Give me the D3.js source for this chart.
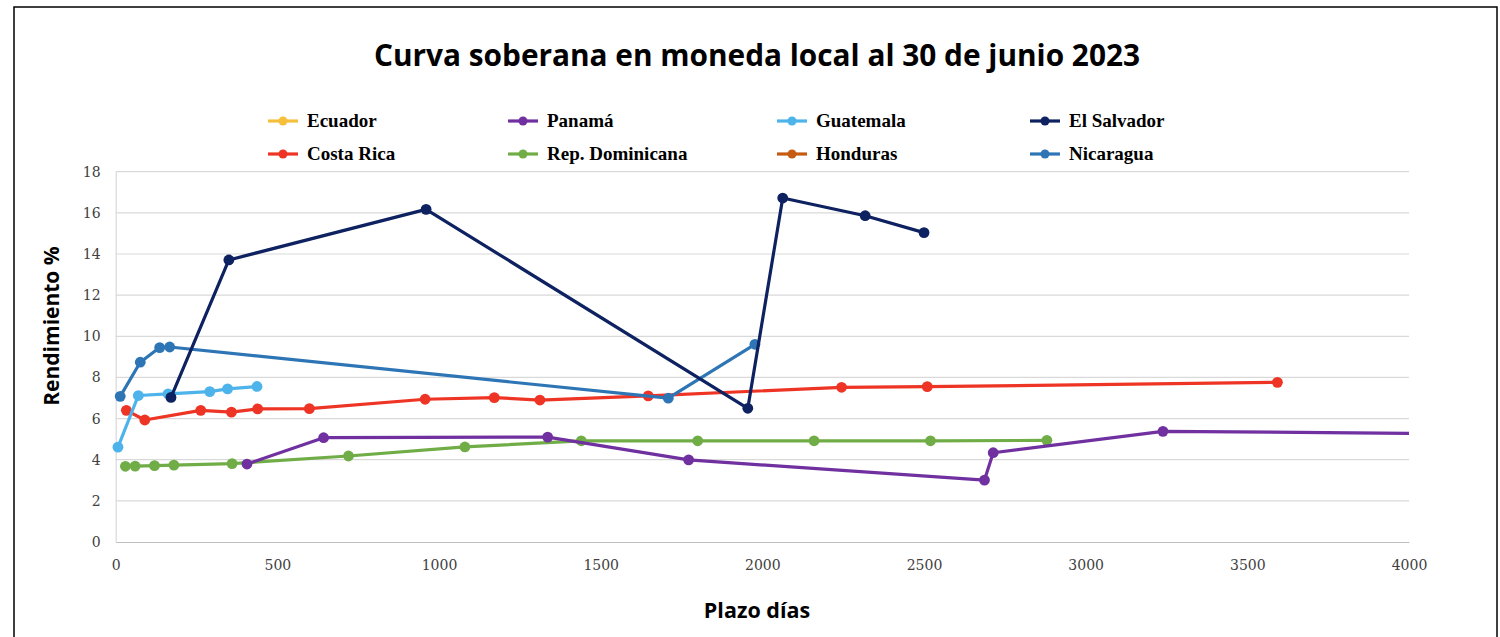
<!DOCTYPE html>
<html><head><meta charset="utf-8">
<script src="https://cdn.jsdelivr.net/npm/d3@7"></script>
<style>body{margin:0;background:#fff}</style>
</head><body>
<svg id="c" width="1500" height="637"></svg>
<script>
// ---- data ----
const xTicks = [0,500,1000,1500,2000,2500,3000,3500,4000];
const yTicks = [0,2,4,6,8,10,12,14,16,18];
const seriesNames = ["Ecuador","Panamá","Guatemala","El Salvador","Costa Rica","Rep. Dominicana","Honduras","Nicaragua"];
const seriesColors = ["#F5BF3C","#7030A0","#4DB3EB","#0E2160","#EE3424","#70AD47","#C55A11","#2E75B6"];
const ecuadorX = [], ecuadorY = [];
const panamaX = [406, 643, 1336, 1772, 2687, 2714, 3239, 5400];
const panamaY = [3.79, 5.07, 5.10, 3.99, 3.01, 4.34, 5.38, 5.10];
const guatemalaX = [7, 70, 162, 291, 346, 437];
const guatemalaY = [4.61, 7.12, 7.20, 7.31, 7.44, 7.56];
const salvadorX = [171, 350, 960, 1955, 2063, 2318, 2500];
const salvadorY = [7.03, 13.71, 16.17, 6.50, 16.72, 15.86, 15.04];
const costaRicaX = [33, 90, 263, 358, 439, 599, 957, 1171, 1312, 1647, 2245, 2510, 3593];
const costaRicaY = [6.40, 5.93, 6.40, 6.31, 6.47, 6.48, 6.94, 7.02, 6.90, 7.10, 7.52, 7.55, 7.76];
const dominicanaX = [30, 60, 120, 180, 360, 720, 1080, 1440, 1800, 2160, 2520, 2880];
const dominicanaY = [3.68, 3.69, 3.71, 3.74, 3.81, 4.18, 4.62, 4.92, 4.92, 4.92, 4.92, 4.94];
const hondurasX = [], hondurasY = [];
const nicaraguaX = [14, 76, 136, 167, 1709, 1977];
const nicaraguaY = [7.08, 8.74, 9.45, 9.48, 6.99, 9.61];

const seriesX = [ecuadorX, panamaX, guatemalaX, salvadorX, costaRicaX, dominicanaX, hondurasX, nicaraguaX];
const seriesY = [ecuadorY, panamaY, guatemalaY, salvadorY, costaRicaY, dominicanaY, hondurasY, nicaraguaY];
// draw order (bottom to top)
const drawOrder = [5,4,2,7,1,3,0,6];

// ---- layout ----
const svg = d3.select("#c");
const L = 115.7, R = 1409, T = 171.7, B = 542;
const x = d3.scaleLinear().domain([0,4000]).range([L,R]);
const y = d3.scaleLinear().domain([0,18]).range([B,T]);

// frame
svg.append("rect").attr("x",14).attr("y",7).attr("width",1483).attr("height",660)
  .attr("fill","#fff").attr("stroke","#000").attr("stroke-width",1.5);

// title
svg.append("text").attr("x",757).attr("y",66).attr("text-anchor","middle")
  .attr("font-family","'Open Sans', sans-serif").attr("font-weight",700).attr("font-size",29.8)
  .attr("fill","#000").text("Curva soberana en moneda local al 30 de junio 2023");

// gridlines
svg.append("g").selectAll("line").data(yTicks.filter(d=>d>0)).join("line")
  .attr("x1",L).attr("x2",R).attr("y1",d=>y(d)).attr("y2",d=>y(d))
  .attr("stroke","#D9D9D9").attr("stroke-width",1.2);

// axes
const xAxis = svg.append("g").attr("transform",`translate(0,${B})`)
  .call(d3.axisBottom(x).tickValues(xTicks).tickSize(0).tickPadding(18).tickFormat(d3.format("d")));
xAxis.select(".domain").attr("stroke","#BFBFBF").attr("stroke-width",1.2);
xAxis.selectAll("text").attr("font-family","'DejaVu Serif', serif").attr("font-size",14).attr("fill","#404040");

const yAxis = svg.append("g").attr("transform",`translate(${L},0)`)
  .call(d3.axisLeft(y).tickValues(yTicks).tickSize(0).tickPadding(15).tickFormat(d3.format("d")));
yAxis.select(".domain").attr("stroke","#D9D9D9").attr("stroke-width",1.2);
yAxis.selectAll("text").attr("font-family","'DejaVu Serif', serif").attr("font-size",14).attr("fill","#404040");

// axis titles
svg.append("text").attr("transform","translate(59,326) rotate(-90)").attr("text-anchor","middle")
  .attr("font-family","'Open Sans', sans-serif").attr("font-weight",700).attr("font-size",21)
  .attr("fill","#000").text("Rendimiento %");
svg.append("text").attr("x",757).attr("y",618).attr("text-anchor","middle")
  .attr("font-family","'Open Sans', sans-serif").attr("font-weight",700).attr("font-size",21.5)
  .attr("fill","#000").text("Plazo días");

// clip
svg.append("clipPath").attr("id","plotclip").append("rect")
  .attr("x",L-10).attr("y",T-10).attr("width",R-L+10).attr("height",B-T+20);

const line = d3.line().x(d=>x(d[0])).y(d=>y(d[1]));
const plot = svg.append("g").attr("clip-path","url(#plotclip)");

drawOrder.forEach(i=>{
  const pts = seriesX[i].map((v,k)=>[v, seriesY[i][k]]);
  if(!pts.length) return;
  const g = plot.append("g");
  g.append("path").datum(pts).attr("d",line).attr("fill","none")
    .attr("stroke",seriesColors[i]).attr("stroke-width",3.2).attr("stroke-linejoin","round");
  g.selectAll("circle").data(pts.filter(p=>p[0]<=4000)).join("circle")
    .attr("cx",d=>x(d[0])).attr("cy",d=>y(d[1])).attr("r",5.4).attr("fill",seriesColors[i]);
});

// legend
const legCols = [268, 508, 777, 1030];
const legRows = [121, 154];
seriesNames.forEach((name,i)=>{
  const cx = legCols[i%4], cy = legRows[Math.floor(i/4)];
  const g = svg.append("g").attr("transform",`translate(${cx},${cy})`);
  g.append("line").attr("x1",0).attr("x2",30).attr("y1",0).attr("y2",0)
    .attr("stroke",seriesColors[i]).attr("stroke-width",3.2);
  g.append("circle").attr("cx",15).attr("cy",0).attr("r",4.5).attr("fill",seriesColors[i]);
  g.append("text").attr("x",39).attr("y",6).attr("font-family","'Liberation Serif', serif")
    .attr("font-weight",700).attr("font-size",19).attr("fill","#000").text(name);
});
</script>
</body></html>
